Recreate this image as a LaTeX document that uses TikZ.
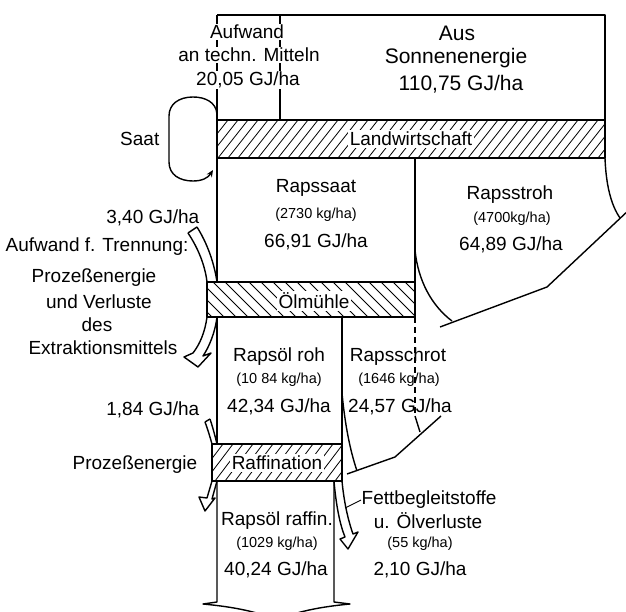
\documentclass[tikz,border=0pt]{standalone}
\usepackage{fontspec}
\setmainfont{Liberation Sans}
\usetikzlibrary{arrows.meta}
\begin{document}
\begin{tikzpicture}[x=1pt,y=-1pt, line width=1.4pt, line join=round,
 t/.style={font=\fontsize{19}{19}\selectfont, inner sep=1pt},
 tb/.style={font=\fontsize{21}{21}\selectfont, inner sep=1pt},
 s/.style={font=\fontsize{14.5}{14.5}\selectfont, inner sep=1pt},
 wt/.style={fill=white},
 hatch/.style={line width=0.8pt}]
\useasboundingbox (0,0) rectangle (626,612);
\clip (0,0) rectangle (626,612);

% ---------- top frame ----------
\draw (217,15) -- (605,15) -- (605,120);
\draw (217,15) -- (217,282);
\draw (280,15) -- (280,120);
\node[t,wt] (aufw) at (247,32) {Aufwand};
\node[t,wt] (techn) at (249,55) {an techn. Mitteln};
\node[t,wt] (e2005) at (248,80) {20,05 GJ/ha};
\node[tb] (aus) at (457,33) {Aus};
\node[tb] (sonne) at (456,58) {Sonnenenergie};
\node[tb] (e11075) at (461,84) {110,75 GJ/ha};

% ---------- Saat loop ----------
\draw[-{Stealth[length=7pt,width=6pt]}] (217,114) .. controls (216,102) and (205,97) .. (193,97)
  .. controls (179,97) and (169,104) .. (169,116) -- (169,162)
  .. controls (169,175) and (180,181) .. (193,181)
  .. controls (202,181) and (208,178) .. (213,170);
\node[t,anchor=east] (saat) at (161,139) {Saat};

% ---------- Landwirtschaft bar ----------
\begin{scope}
 \clip (217,120) rectangle (605,158);
 \foreach \k in {178,188,...,610} \draw[hatch] (\k,158) -- ++(30,-38);
\end{scope}
\draw (217,120) rectangle (605,158);
\node[t,wt,inner sep=2pt] (landw) at (411,139) {Landwirtschaft};

% ---------- Rapssaat / Rapsstroh ----------
\draw (415,158) -- (415,282);
\draw (415,250) .. controls (418,281) and (432,306) .. (452,321);
\draw (605,158) .. controls (606,185) and (611,205) .. (620,218);
\draw (630,209) -- (547,287) -- (440,327);
\node[t] (rsaat) at (316,188) {Rapssaat};
\node[s] (m2730) at (316,215) {(2730 kg/ha)};
\node[t] (e6691) at (316,242) {66,91 GJ/ha};
\node[t] (rstroh) at (510,195) {Rapsstroh};
\node[s] (m4700) at (512,219) {(4700kg/ha)};
\node[t] (e6489) at (511,245) {64,89 GJ/ha};

% ---------- Trennung input / loss ----------
\draw (188,233) -- (197,227);
\draw (188,233) .. controls (198,248) and (205,265) .. (207,282);
\draw (197,227) .. controls (207,243) and (214,262) .. (217,282);
\draw (207,317) .. controls (205,332) and (200,344) .. (193,353)
  -- (184,357) -- (198,367) -- (211,353) -- (203,356)
  .. controls (209,347) and (215,333) .. (217,317);
\node[t,anchor=east] (e340) at (201,218) {3,40 GJ/ha};
\node[t] (trenn) at (97,247) {Aufwand f. Trennung:};
\node[t] (proz1) at (94,278) {Prozeßenergie};
\node[t] (verl) at (99,302) {und Verluste};
\node[t] (des) at (97,325) {des};
\node[t] (extr) at (103,348) {Extraktionsmittels};

% ---------- Oelmuehle bar ----------
\begin{scope}
 \clip (207,282) rectangle (415,317);
 \foreach \k in {165,177,...,420} \draw[hatch] (\k,282) -- ++(35,35);
\end{scope}
\draw (207,282) rectangle (415,317);
\node[t,wt,inner sep=2pt] (oelm) at (314,301) {Ölmühle};

% ---------- Rapsöl roh / Rapsschrot ----------
\draw (217,317) -- (217,444);
\draw (342,317) -- (342,444);
\draw (342,393) .. controls (345,425) and (350,450) .. (357,471);
\draw[dashed,dash pattern=on 6pt off 4pt] (415,317) -- (415,416);
\draw (415,416) -- (420,432);
\draw (441,416) -- (395,457) -- (347,474);
\node[t] (roh) at (279,357) {Rapsöl roh};
\node[s] (m1084) at (279,380) {(10 84 kg/ha)};
\node[t] (e4234) at (279,407) {42,34 GJ/ha};
\node[t] (schrot) at (398,357) {Rapsschrot};
\node[s] (m1646) at (399,380) {(1646 kg/ha)};
\node[t] (e2457) at (400,407) {24,57 GJ/ha};

% ---------- Raffination input / loss ----------
\draw (205,422) -- (210,419);
\draw (205,422) .. controls (208,430) and (210,437) .. (212,444);
\draw (210,419) .. controls (213,428) and (215,436) .. (217,444);
\draw (212,481) -- (207,498) -- (199,497) -- (205,511) -- (215,498) -- (212,499) -- (217,481);
\node[t,anchor=east] (e184) at (201,410) {1,84 GJ/ha};
\node[t,anchor=east] (proz2) at (199,465) {Prozeßenergie};

% ---------- Raffination bar ----------
\begin{scope}
 \clip (212,444) rectangle (342,481);
 \foreach \k in {175,185,...,345} \draw[hatch] (\k,481) -- ++(28,-37);
\end{scope}
\draw (212,444) rectangle (342,481);
\node[t,wt,inner sep=2pt] (raff) at (277,463) {Raffination};

% ---------- bottom ----------
\draw (217,481) -- (217,602) -- (203,604) .. controls (235,607) and (258,612) .. (277,620);
\draw (334,481) -- (334,602) -- (350,604) .. controls (318,607) and (296,612) .. (277,620);
\draw (334,481) .. controls (336,505) and (340,525) .. (345,537)
  -- (340,539) -- (348,549) -- (358,532) -- (353,534)
  .. controls (348,520) and (344,502) .. (342,481);
\draw[line width=0.9pt] (361,500) -- (345,508);
\node[t] (raffin) at (277,521) {Rapsöl raffin.};
\node[s] (m1029) at (277,544) {(1029 kg/ha)};
\node[t] (e4024) at (276,570) {40,24 GJ/ha};
\node[t,anchor=west] (fett) at (360,500) {Fettbegleitstoffe};
\node[t] (oelv) at (428,521) {u. Ölverluste};
\node[s] (m55) at (420,544) {(55 kg/ha)};
\node[t] (e210) at (420,570) {2,10 GJ/ha};
\end{tikzpicture}
\end{document}
